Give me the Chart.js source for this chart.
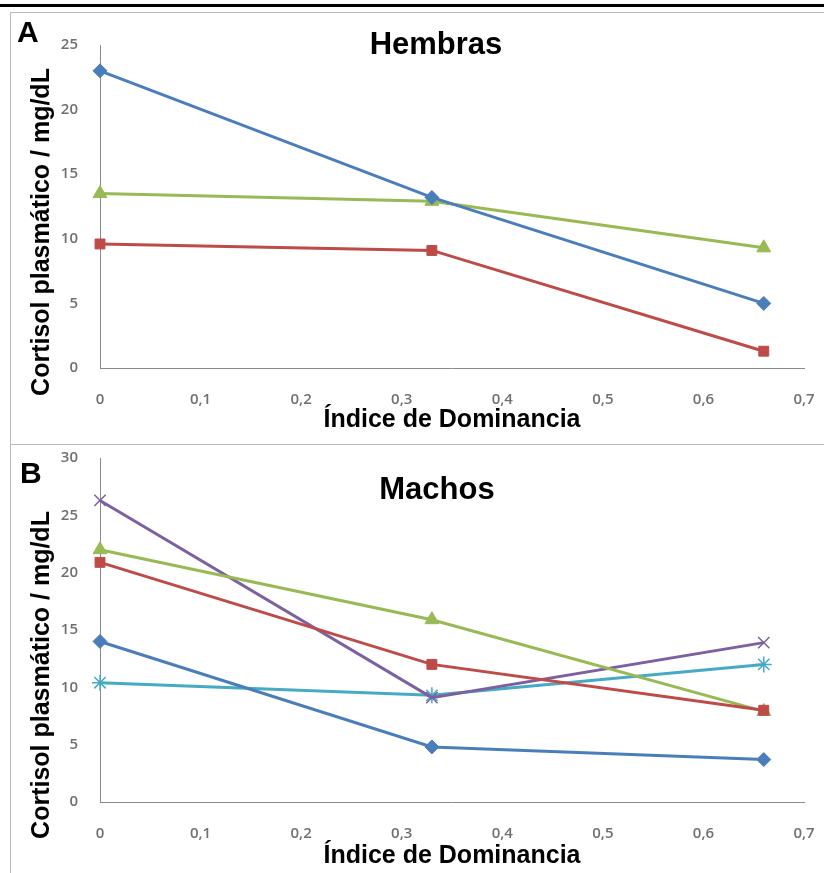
<!DOCTYPE html>
<html>
<head>
<meta charset="utf-8">
<script src="https://cdn.jsdelivr.net/npm/chart.js@4.4.1/dist/chart.umd.min.js"></script>
<style>
  body { margin: 0; background: #fff; width: 824px; height: 873px; position: relative; overflow: hidden;
         font-family: "Liberation Sans", Arial, sans-serif; }
  .topline { position: absolute; left: 0; top: 4px; width: 824px; height: 3px; background: #000; }
  .panel { position: absolute; left: 10px; width: 840px; border: 1px solid #bcbcbc; box-sizing: border-box; }
  #panelA { top: 12px; height: 433px; }
  #panelB { top: 444px; height: 460px; }
  canvas { position: absolute; left: 0; }
  #chartA { top: 0; }
  #chartB { top: 445px; }
  .letter { position: absolute; font-weight: bold; font-size: 30px; color: #000; }
  .title { position: absolute; font-weight: bold; font-size: 31px; color: #000; transform: translateX(-50%); white-space: nowrap; }
  .ytitle { position: absolute; font-weight: bold; font-size: 25px; color: #000; white-space: nowrap;
            transform: translate(-50%, -50%) rotate(-90deg); }
</style>
</head>
<body>
<div class="topline"></div>
<div class="panel" id="panelA"></div>
<div class="panel" id="panelB"></div>
<canvas id="chartA" width="824" height="445"></canvas>
<canvas id="chartB" width="824" height="428"></canvas>
<div class="letter" style="left:17px;top:15px;">A</div>
<div class="title" style="left:436px;top:26px;">Hembras</div>
<div class="ytitle" style="left:40px;top:232px;">Cortisol plasmático / mg/dL</div>
<div class="letter" style="left:20px;top:456px;">B</div>
<div class="title" style="left:437px;top:471px;">Machos</div>
<div class="ytitle" style="left:40px;top:675px;">Cortisol plasmático / mg/dL</div>
<script>
// Índice de Dominancia (x) for each group
const xValues = [0, 0.33, 0.66];
const xTicks = [0, 0.1, 0.2, 0.3, 0.4, 0.5, 0.6, 0.7];

// Hembras (A)
const hembrasBlue = [23, 13.2, 5];
const hembrasRed = [9.6, 9.1, 1.3];
const hembrasGreen = [13.5, 12.9, 9.3];
const yTicksA = [0, 5, 10, 15, 20, 25];

// Machos (B)
const machosBlue = [14, 4.8, 3.7];
const machosRed = [20.9, 12, 8];
const machosGreen = [22, 15.9, 7.9];
const machosPurple = [26.3, 9.1, 13.9];
const machosCyan = [10.4, 9.3, 12];
const yTicksB = [0, 5, 10, 15, 20, 25, 30];

const BLUE = '#4a7ebb', RED = '#be4b48', GREEN = '#98b954', PURPLE = '#7d60a0', CYAN = '#46aac5';

function pts(ys) {
  return xValues.map((x, i) => ({ x: x, y: ys[i] }));
}

function series(ys, color, style, radius) {
  return {
    data: pts(ys),
    showLine: true,
    borderColor: color,
    backgroundColor: color,
    borderWidth: 3,
    pointStyle: style,
    pointRadius: radius,
    pointBorderColor: color,
    pointBackgroundColor: color,
    pointBorderWidth: style === 'crossRot' || style === 'star' ? 1.5 : 1,
    clip: false,
  };
}

const tickFont = { family: '"Open Sans", "Liberation Sans", sans-serif', size: 15, weight: '600' };
const tickColor = '#707070';

function makeOptions(yTicks, padTop, xHeight, titlePad) {
  return {
    responsive: false,
    animation: false,
    layout: { padding: { top: padTop, right: 20, left: 0, bottom: 0 } },
    plugins: { legend: { display: false }, tooltip: { enabled: false } },
    scales: {
      x: {
        type: 'linear',
        min: 0,
        max: 0.7,
        afterBuildTicks: (axis) => { axis.ticks = xTicks.map((v) => ({ value: v })); },
        afterFit: (scale) => {
          scale.height = xHeight;
          scale.paddingLeft = 0;
          scale.paddingRight = 0;
        },
        grid: { display: true, drawOnChartArea: false, drawTicks: false, color: '#8a8a8a' },
        border: { display: true, color: '#8a8a8a', width: 1 },
        ticks: {
          padding: 23,
          maxRotation: 0,
          autoSkip: false,
          color: tickColor,
          font: tickFont,
          callback: (v) => (v === 0 ? '0' : v.toFixed(1).replace('.', ',')),
        },
        title: {
          display: true,
          text: 'Índice de Dominancia',
          color: '#000',
          font: { family: '"Liberation Sans", Arial, sans-serif', size: 25, weight: 'bold' },
          padding: { top: 0, bottom: titlePad },
        },
      },
      y: {
        min: yTicks[0],
        max: yTicks[yTicks.length - 1],
        afterBuildTicks: (axis) => { axis.ticks = yTicks.map((v) => ({ value: v })); },
        afterFit: (scale) => {
          scale.width = 100;
          scale.paddingTop = 0;
          scale.paddingBottom = 0;
        },
        grid: { display: true, drawOnChartArea: false, drawTicks: false, color: '#8a8a8a' },
        border: { display: true, color: '#8a8a8a', width: 1 },
        ticks: { padding: 22, color: tickColor, font: tickFont },
      },
    },
  };
}

new Chart(document.getElementById('chartA'), {
  type: 'scatter',
  data: {
    datasets: [
      series(hembrasBlue, BLUE, 'rectRot', 7),
      series(hembrasRed, RED, 'rect', 7),
      series(hembrasGreen, GREEN, 'triangle', 8),
    ],
  },
  options: makeOptions(yTicksA, 45, 77, 10),
});

new Chart(document.getElementById('chartB'), {
  type: 'scatter',
  data: {
    datasets: [
      series(machosBlue, BLUE, 'rectRot', 7),
      series(machosRed, RED, 'rect', 7),
      series(machosGreen, GREEN, 'triangle', 8),
      series(machosPurple, PURPLE, 'crossRot', 8),
      series(machosCyan, CYAN, 'star', 8),
    ],
  },
  options: makeOptions(yTicksB, 13, 71, 2),
});
</script>
</body>
</html>
